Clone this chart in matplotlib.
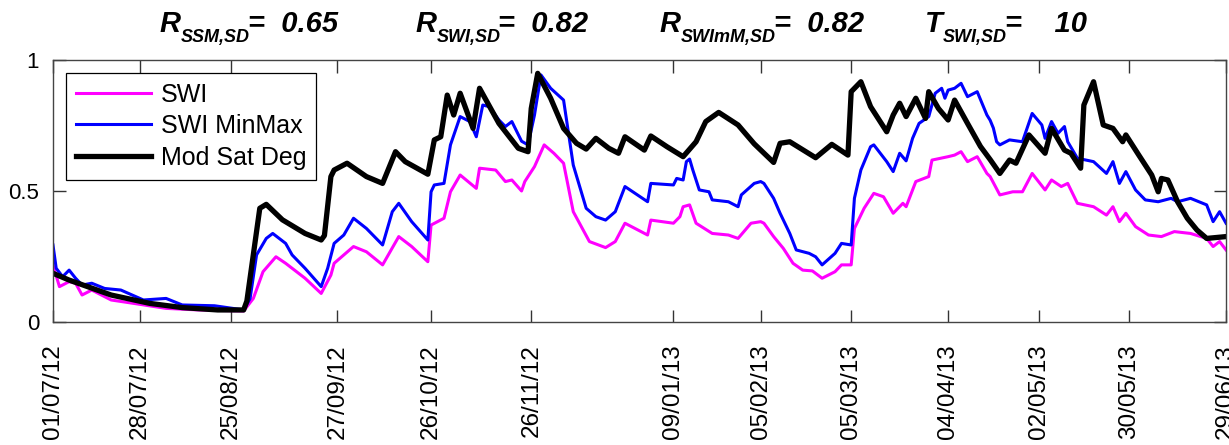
import matplotlib
matplotlib.use("Agg")
import matplotlib.pyplot as plt
import matplotlib.dates as mdates
import numpy as np

plt.rcParams["font.family"] = ["Liberation Sans", "DejaVu Sans"]

start = np.datetime64("2012-07-01")
end = np.datetime64("2013-06-29")

# days since 01/07/12 and values for each series
swi_days = [0, 2, 5, 7, 9, 12, 18, 25, 35, 45, 59, 62, 65, 69, 72, 78, 83, 86, 87, 93,
            97, 102, 107, 111, 116, 117, 121, 123, 126, 131, 132, 137, 140, 142, 145, 146,
            149, 152, 155, 158, 161, 166, 171, 174, 177, 184, 185, 192, 194, 195, 197, 199,
            204, 209, 212, 216, 219, 220, 223, 226, 229, 232, 235, 238, 242, 244, 247, 248,
            251, 254, 257, 260, 263, 264, 267, 271, 272, 277, 279, 281, 283, 286, 289, 290,
            293, 297, 300, 303, 307, 309, 312, 314, 317, 322, 326, 328, 330, 332, 335, 339,
            343, 347, 352, 357, 359, 361, 363]
swi = [0.218, 0.135, 0.154, 0.148, 0.103, 0.122, 0.084, 0.071, 0.052, 0.046, 0.042, 0.090,
       0.192, 0.249, 0.224, 0.167, 0.109, 0.179, 0.224, 0.288, 0.268, 0.218, 0.326, 0.288,
       0.230, 0.370, 0.396, 0.497, 0.561, 0.510, 0.587, 0.580, 0.536, 0.542, 0.500, 0.536,
       0.593, 0.676, 0.644, 0.606, 0.421, 0.307, 0.284, 0.307, 0.377, 0.332, 0.389, 0.377,
       0.402, 0.440, 0.447, 0.377, 0.338, 0.332, 0.319, 0.377, 0.383, 0.377, 0.326, 0.281,
       0.224, 0.198, 0.195, 0.167, 0.192, 0.218, 0.218, 0.357, 0.434, 0.491, 0.478, 0.415,
       0.453, 0.440, 0.536, 0.555, 0.618, 0.631, 0.637, 0.650, 0.612, 0.631, 0.567, 0.555,
       0.485, 0.497, 0.497, 0.567, 0.504, 0.542, 0.517, 0.529, 0.453, 0.440, 0.408, 0.440,
       0.383, 0.415, 0.364, 0.332, 0.326, 0.345, 0.338, 0.319, 0.288, 0.307, 0.275]

minmax_days = [0, 1, 3, 5, 7, 9, 12, 16, 21, 28, 35, 40, 50, 59, 61, 63, 66, 68, 72, 74,
               78, 83, 85, 87, 90, 93, 97, 102, 105, 107, 111, 116, 117, 118, 121, 123, 126,
               129, 131, 133, 135, 138, 140, 142, 145, 147, 149, 151, 154, 158, 161, 165,
               168, 171, 174, 177, 184, 185, 192, 193, 195, 196, 197, 198, 200, 203, 204,
               209, 212, 213, 217, 219, 220, 223, 225, 228, 230, 234, 236, 238, 242, 244,
               247, 248, 250, 253, 254, 258, 260, 262, 264, 266, 268, 271, 273, 275, 276,
               277, 279, 281, 283, 286, 289, 290, 291, 292, 293, 296, 300, 303, 306, 307,
               309, 311, 313, 314, 317, 322, 326, 328, 330, 332, 335, 338, 342, 346, 348,
               352, 357, 359, 361, 363]
minmax = [0.294, 0.205, 0.173, 0.198, 0.167, 0.141, 0.148, 0.128, 0.122, 0.084, 0.090,
          0.065, 0.062, 0.046, 0.090, 0.256, 0.319, 0.338, 0.300, 0.256, 0.205, 0.135, 0.205,
          0.300, 0.332, 0.396, 0.357, 0.294, 0.421, 0.453, 0.383, 0.313, 0.497, 0.523, 0.529,
          0.676, 0.784, 0.765, 0.707, 0.828, 0.822, 0.771, 0.746, 0.765, 0.690, 0.676, 0.790,
          0.943, 0.892, 0.847, 0.599, 0.434, 0.402, 0.389, 0.421, 0.517, 0.459, 0.529, 0.523,
          0.548, 0.542, 0.612, 0.622, 0.580, 0.504, 0.497, 0.466, 0.459, 0.440, 0.485, 0.529,
          0.536, 0.529, 0.472, 0.415, 0.338, 0.275, 0.262, 0.249, 0.218, 0.262, 0.300, 0.294,
          0.472, 0.580, 0.669, 0.676, 0.612, 0.574, 0.644, 0.615, 0.701, 0.758, 0.784, 0.873,
          0.892, 0.854, 0.885, 0.892, 0.911, 0.860, 0.879, 0.790, 0.770, 0.740, 0.688, 0.676,
          0.695, 0.688, 0.796, 0.752, 0.701, 0.765, 0.720, 0.746, 0.688, 0.625, 0.612, 0.567,
          0.612, 0.529, 0.574, 0.504, 0.466, 0.459, 0.472, 0.459, 0.472, 0.447, 0.383, 0.421,
          0.377]

satdeg_days = [0, 5, 18, 30, 40, 51, 59, 60, 64, 66, 71, 78, 83, 84, 86, 87, 91, 97, 102,
               106, 109, 116, 118, 120, 122, 124, 126, 130, 132, 138, 144, 147, 148, 150,
               154, 158, 162, 165, 168, 172, 175, 177, 183, 185, 190, 195, 199, 202, 206,
               212, 217, 223, 225, 228, 236, 241, 246, 247, 250, 253, 258, 260, 262, 264,
               267, 270, 271, 274, 277, 279, 283, 287, 290, 293, 296, 298, 302, 307, 309,
               313, 315, 318, 319, 322, 325, 328, 331, 332, 336, 340, 342, 343, 345, 348,
               351, 354, 357, 363]
satdeg = [0.186, 0.160, 0.103, 0.071, 0.055, 0.046, 0.046, 0.080, 0.434, 0.449, 0.390,
          0.338, 0.313, 0.330, 0.555, 0.580, 0.606, 0.555, 0.529, 0.650, 0.612, 0.564, 0.695,
          0.707, 0.866, 0.790, 0.873, 0.739, 0.892, 0.758, 0.663, 0.650, 0.815, 0.949, 0.854,
          0.739, 0.682, 0.660, 0.701, 0.663, 0.644, 0.707, 0.656, 0.710, 0.669, 0.631, 0.688,
          0.765, 0.800, 0.752, 0.680, 0.609, 0.682, 0.688, 0.627, 0.678, 0.637, 0.879, 0.917,
          0.822, 0.726, 0.790, 0.835, 0.784, 0.854, 0.777, 0.879, 0.815, 0.771, 0.847, 0.758,
          0.670, 0.620, 0.567, 0.618, 0.606, 0.714, 0.644, 0.739, 0.656, 0.644, 0.587, 0.828,
          0.917, 0.752, 0.739, 0.688, 0.714, 0.637, 0.561, 0.497, 0.548, 0.542, 0.459, 0.396,
          0.351, 0.319, 0.326]

tick_dates = ["2012-07-01", "2012-07-28", "2012-08-25", "2012-09-27", "2012-10-26",
              "2012-11-26", "2013-01-09", "2013-02-05", "2013-03-05", "2013-04-04",
              "2013-05-02", "2013-05-30", "2013-06-29"]

# symbol, subscript, value for the scores printed above the axes
score_syms = ["R", "R", "R", "T"]
score_subs = ["SSM,SD", "SWI,SD", "SWImM,SD", "SWI,SD"]
score_vals = ["0.65", "0.82", "0.82", "  10"]
score_x = [0.130, 0.338, 0.537, 0.753]

fig = plt.figure(figsize=(12.29, 4.45), dpi=100)
ax = fig.add_axes([0.0431, 0.2764, 0.9545, 0.5888])

ax.plot(start + np.array(swi_days), swi, color="#ff00ff", lw=2.2, label="SWI")
ax.plot(start + np.array(minmax_days), minmax, color="#0000ff", lw=2.2, label="SWI MinMax")
ax.plot(start + np.array(satdeg_days), satdeg, color="black", lw=3.8, label="Mod Sat Deg")

ax.set_xlim(start, end)
ax.set_ylim(0, 1)
ax.set_xticks([np.datetime64(d) for d in tick_dates])
ax.xaxis.set_major_formatter(mdates.DateFormatter("%d/%m/%y"))
ax.set_yticks([0, 0.5, 1])
ax.set_yticklabels(["0", "0.5", "1"])
ax.tick_params(direction="in", length=9, width=1, color="#333333",
               top=True, right=True)
ax.tick_params(axis="x", rotation=90, pad=16, labelsize=17.5)
ax.tick_params(axis="y", pad=10, labelsize=16)
for s in ax.spines.values():
    s.set_color("#444444")
    s.set_linewidth(1)

leg = ax.legend(loc="upper left", bbox_to_anchor=(0.011, 0.952), fontsize=18,
                fancybox=False, framealpha=1, edgecolor="black", borderpad=0.4,
                handlelength=3.0, labelspacing=0.3, handletextpad=0.4, borderaxespad=0)
leg.get_frame().set_linewidth(0.9)

# scores: big italic symbol, lowered subscript, then the value
renderer = fig.canvas.get_renderer()
fw = fig.bbox.width
fh = fig.bbox.height
style = dict(fontweight="bold", fontstyle="italic", ha="left", va="baseline")
y0 = 0.928
for x, sym, sub, val in zip(score_x, score_syms, score_subs, score_vals):
    t = fig.text(x, y0, sym, fontsize=21, **style)
    x = t.get_window_extent(renderer).x1 / fw
    t = fig.text(x, y0 - 10 / fh, sub, fontsize=13, **style)
    x = t.get_window_extent(renderer).x1 / fw
    fig.text(x - 2 / fw, y0, "=  " + val, fontsize=21, **style)

fig.savefig("out.png", dpi=100)
